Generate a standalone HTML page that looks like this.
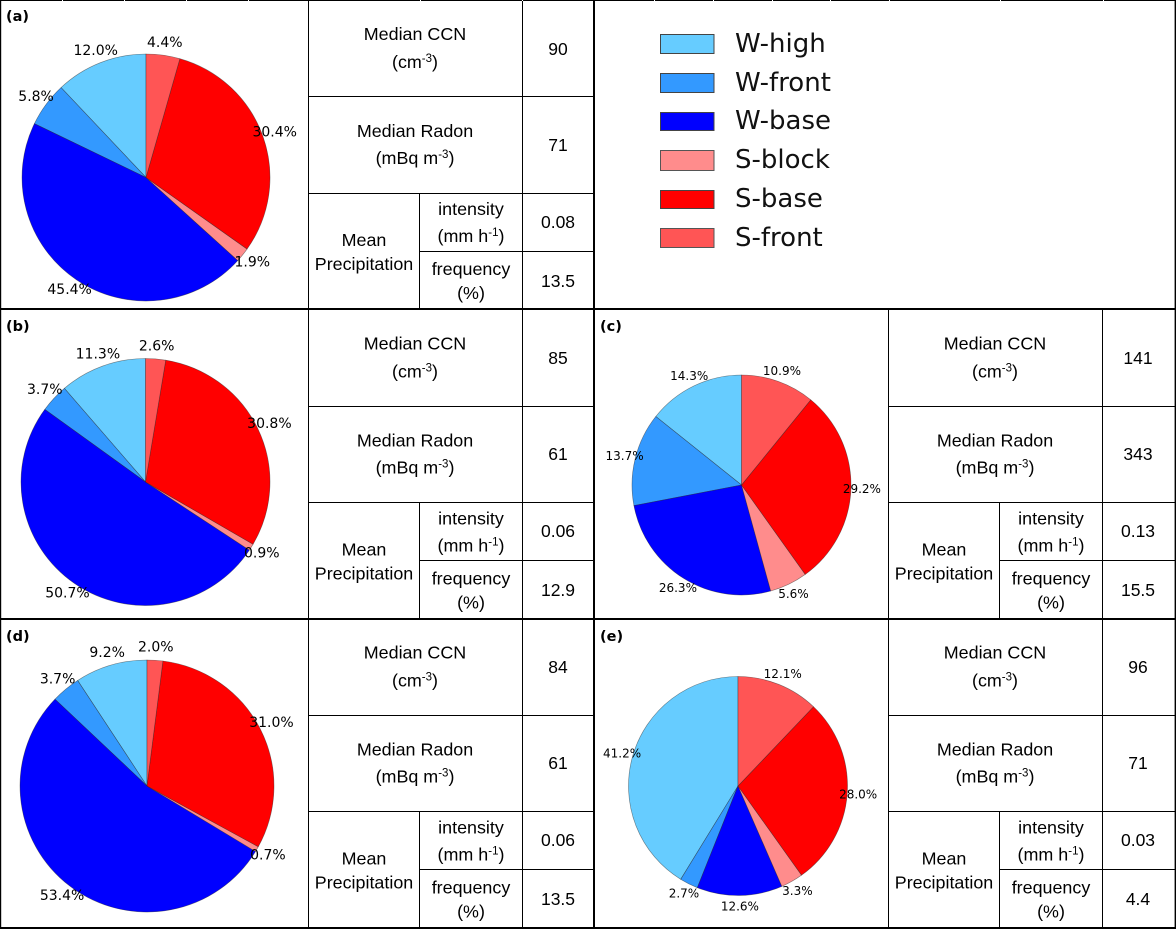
<!DOCTYPE html>
<html lang="en">
<head>
<meta charset="utf-8">
<title>Cloud regime pie charts</title>
<style>
html,body{margin:0;padding:0;background:#fff;width:1176px;height:930px;overflow:hidden}
svg{display:block}
.cell{font-family:"Liberation Sans",Arial,sans-serif;font-size:17.9px;fill:#000;text-anchor:middle}
.val{font-size:17.5px}
.sup{font-size:11.5px}
.pct{font-family:"DejaVu Sans",sans-serif;fill:#000;text-anchor:middle;dominant-baseline:central}
.tag{font-family:"DejaVu Sans",sans-serif;font-weight:bold;font-size:14.5px;fill:#000}
.leg{font-family:"DejaVu Sans",sans-serif;font-size:26px;fill:#111}
</style>
</head>
<body>
<svg id="chart" xmlns="http://www.w3.org/2000/svg" width="1176" height="930" viewBox="0 0 1176 930">
<rect width="1176" height="930" fill="#fff"/>
<g id="panels"></g>
<g id="tables"></g>
<g id="grid" stroke="#000" fill="none">
<path stroke-width="1.2" d="M0.6 0V929"/>
<path stroke-width="1.4" d="M1175.3 0V929"/>
<path stroke-width="2" d="M0 0H1176"/>
<path stroke-width="2" d="M0 309H1176"/>
<path stroke-width="2" d="M0 619H1176"/>
<path stroke-width="2" d="M0 928H1176"/>
<path stroke-width="2" d="M594 0V929"/>
</g>
<g id="legend">
<g><rect x="660.5" y="34.5" width="53.5" height="19" fill="#66ccff" stroke="#444"/><text class="leg" x="735" y="52">W-high</text></g>
<g><rect x="660.5" y="73.5" width="53.5" height="19" fill="#3399ff" stroke="#444"/><text class="leg" x="735" y="91">W-front</text></g>
<g><rect x="660.5" y="112.5" width="53.5" height="18" fill="#0000ff" stroke="#444"/><text class="leg" x="735" y="129">W-base</text></g>
<g><rect x="660.5" y="150.5" width="53.5" height="20" fill="#ff8c8c" stroke="#555"/><text class="leg" x="735" y="168">S-block</text></g>
<g><rect x="660.5" y="190.5" width="53.5" height="18" fill="#ff0000" stroke="#444"/><text class="leg" x="735" y="207">S-base</text></g>
<g><rect x="660.5" y="228.5" width="53.5" height="19" fill="#ff5555" stroke="#555"/><text class="leg" x="735" y="246">S-front</text></g>
</g>
<g id="edge-ticks"></g>
</svg>
<script>
const categories = ['W-high', 'W-front', 'W-base', 'S-block', 'S-base', 'S-front'];
const categoryColors = ['#66ccff', '#3399ff', '#0000ff', '#ff8c8c', '#ff0000', '#ff5555'];
const panelA = [12.0, 5.8, 45.4, 1.9, 30.4, 4.4];
const panelB = [11.3, 3.7, 50.7, 0.9, 30.8, 2.6];
const panelC = [14.3, 13.7, 26.3, 5.6, 29.2, 10.9];
const panelD = [9.2, 3.7, 53.4, 0.7, 31.0, 2.0];
const panelE = [41.2, 2.7, 12.6, 3.3, 28.0, 12.1];
const statsA = ['90', '71', '0.08', '13.5'];
const statsB = ['85', '61', '0.06', '12.9'];
const statsC = ['141', '343', '0.13', '15.5'];
const statsD = ['84', '61', '0.06', '13.5'];
const statsE = ['96', '71', '0.03', '4.4'];

const NS = 'http://www.w3.org/2000/svg';
const panelsLayer = document.getElementById('panels');
const tablesLayer = document.getElementById('tables');

function drawPie(tag, values, cx, cy, rx, ry, fontSize, tagX, tagY) {
  const group = document.createElementNS(NS, 'g');
  
  
  panelsLayer.appendChild(group);
  const total = values.reduce(function (a, b) { return a + b; }, 0);
  let cumulative = 0;
  values.forEach(function (value, i) {
    const a0 = Math.PI / 2 + (cumulative / total) * 2 * Math.PI;
    const a1 = Math.PI / 2 + ((cumulative + value) / total) * 2 * Math.PI;
    const large = (a1 - a0) > Math.PI ? 1 : 0;
    const x0 = cx + rx * Math.cos(a0);
    const y0 = cy - ry * Math.sin(a0);
    const x1 = cx + rx * Math.cos(a1);
    const y1 = cy - ry * Math.sin(a1);
    const slice = document.createElementNS(NS, 'path');
    slice.setAttribute('d', 'M' + cx + ' ' + cy + 'L' + x0 + ' ' + y0 + 'A' + rx + ' ' + ry + ' 0 ' + large + ' 0 ' + x1 + ' ' + y1 + 'Z');
    slice.setAttribute('fill', categoryColors[i]);
    slice.setAttribute('stroke', '#222');
    slice.setAttribute('stroke-opacity', '0.55');
    slice.setAttribute('stroke-width', '0.6');
    
    
    group.appendChild(slice);
    cumulative += value;
  });
  cumulative = 0;
  values.forEach(function (value, i) {
    const mid = Math.PI / 2 + ((cumulative + value / 2) / total) * 2 * Math.PI;
    const label = document.createElementNS(NS, 'text');
    label.setAttribute('class', 'pct');
    label.setAttribute('x', cx + 1.1 * rx * Math.cos(mid));
    label.setAttribute('y', cy - 1.1 * ry * Math.sin(mid));
    label.setAttribute('font-size', fontSize);
    label.textContent = value.toFixed(1) + '%';
    
    
    group.appendChild(label);
    cumulative += value;
  });
  const tagText = document.createElementNS(NS, 'text');
  tagText.setAttribute('class', 'tag');
  tagText.setAttribute('x', tagX);
  tagText.setAttribute('y', tagY);
  tagText.textContent = '(' + tag + ')';
  
  
  group.appendChild(tagText);
}

function addText(parent, cx, y, main, sup, tail, name, extraClass) {
  const t = document.createElementNS(NS, 'text');
  t.setAttribute('class', extraClass ? 'cell ' + extraClass : 'cell');
  t.setAttribute('x', cx);
  t.setAttribute('y', y);
  t.appendChild(document.createTextNode(main));
  if (sup) {
    const s = document.createElementNS(NS, 'tspan');
    s.setAttribute('class', 'sup');
    s.setAttribute('dy', '-6');
    s.textContent = sup;
    t.appendChild(s);
    const r = document.createElementNS(NS, 'tspan');
    r.setAttribute('dy', '6');
    r.textContent = tail;
    t.appendChild(r);
  }
  
  
  parent.appendChild(t);
}

function addLine(parent, x1, y1, x2, y2) {
  const l = document.createElementNS(NS, 'line');
  l.setAttribute('x1', x1);
  l.setAttribute('y1', y1);
  l.setAttribute('x2', x2);
  l.setAttribute('y2', y2);
  l.setAttribute('stroke', '#000');
  l.setAttribute('stroke-width', '1');
  
  
  parent.appendChild(l);
}

function drawTable(tag, stats, x0, top, bottom, textShift, valueShift, line1, line2, line3) {
  const g = document.createElementNS(NS, 'g');
  
  
  tablesLayer.appendChild(g);
  const right = x0 + 287;
  addLine(g, x0 + 0.5, top, x0 + 0.5, bottom);
  addLine(g, x0 + 214.5, top, x0 + 214.5, bottom);
  addLine(g, x0 + 111.5, line2, x0 + 111.5, bottom);
  addLine(g, x0, line1, right, line1);
  addLine(g, x0, line2, right, line2);
  addLine(g, x0 + 111.5, line3, right, line3);
  const y = function (v) { return top + textShift + v; };
  const yv = function (v) { return top + valueShift + v; };
  addText(g, x0 + 107, y(40), 'Median CCN', null, null, 'median-ccn-label');
  addText(g, x0 + 107, y(68), '(cm', '-3', ')', 'median-ccn-unit');
  addText(g, x0 + 107, y(137), 'Median Radon', null, null, 'median-radon-label');
  addText(g, x0 + 107, y(164), '(mBq m', '-3', ')', 'median-radon-unit');
  addText(g, x0 + 56, y(246), 'Mean', null, null, 'mean-label');
  addText(g, x0 + 56, y(270), 'Precipitation', null, null, 'precipitation-label');
  addText(g, x0 + 163, y(215), 'intensity', null, null, 'intensity-label');
  addText(g, x0 + 163, y(242), '(mm h', '-1', ')', 'intensity-unit');
  addText(g, x0 + 163, y(275), 'frequency', null, null, 'frequency-label');
  addText(g, x0 + 163, y(299), '(%)', null, null, 'frequency-unit');
  addText(g, x0 + 250, yv(55), stats[0], null, null, 'ccn-value', 'val');
  addText(g, x0 + 250, yv(151), stats[1], null, null, 'radon-value', 'val');
  addText(g, x0 + 250, yv(228), stats[2], null, null, 'intensity-value', 'val');
  addText(g, x0 + 250, yv(287), stats[3], null, null, 'frequency-value', 'val');
}

drawPie('a', panelA, 146, 177.5, 124, 123.5, 14, 6, 21);
drawPie('b', panelB, 145.5, 482, 124.5, 123.5, 14, 6, 331);
drawPie('c', panelC, 741.5, 485, 109.5, 110, 12, 600, 331);
drawPie('d', panelD, 147, 786, 127, 126, 14, 6, 641);
drawPie('e', panelE, 738, 786, 109.5, 109.5, 12, 600, 641);

drawTable('a', statsA, 308, 0, 308, 0, 0, 96.5, 193.5, 251.5);
drawTable('b', statsB, 308, 309, 618, 0.5, 0, 406.5, 502.5, 560.5);
drawTable('c', statsC, 888, 309, 618, 0.5, 0, 406.5, 502.5, 560.5);
drawTable('d', statsD, 308, 619, 928, -0.5, -1, 715.5, 811.5, 869.5);
drawTable('e', statsE, 888, 619, 928, -0.5, -1, 715.5, 811.5, 869.5);

const gapMarks = [62, 124, 186, 248, 420, 522, 654, 713, 772, 830, 889, 1000, 1103];
const edgeLayer = document.getElementById('edge-ticks');
gapMarks.forEach(function (x) {
  const gap = document.createElementNS(NS, 'rect');
  gap.setAttribute('x', x);
  gap.setAttribute('y', 0);
  gap.setAttribute('width', 1);
  gap.setAttribute('height', 1);
  gap.setAttribute('fill', '#fff');
  
  
  edgeLayer.appendChild(gap);
});
</script>
</body>
</html>
